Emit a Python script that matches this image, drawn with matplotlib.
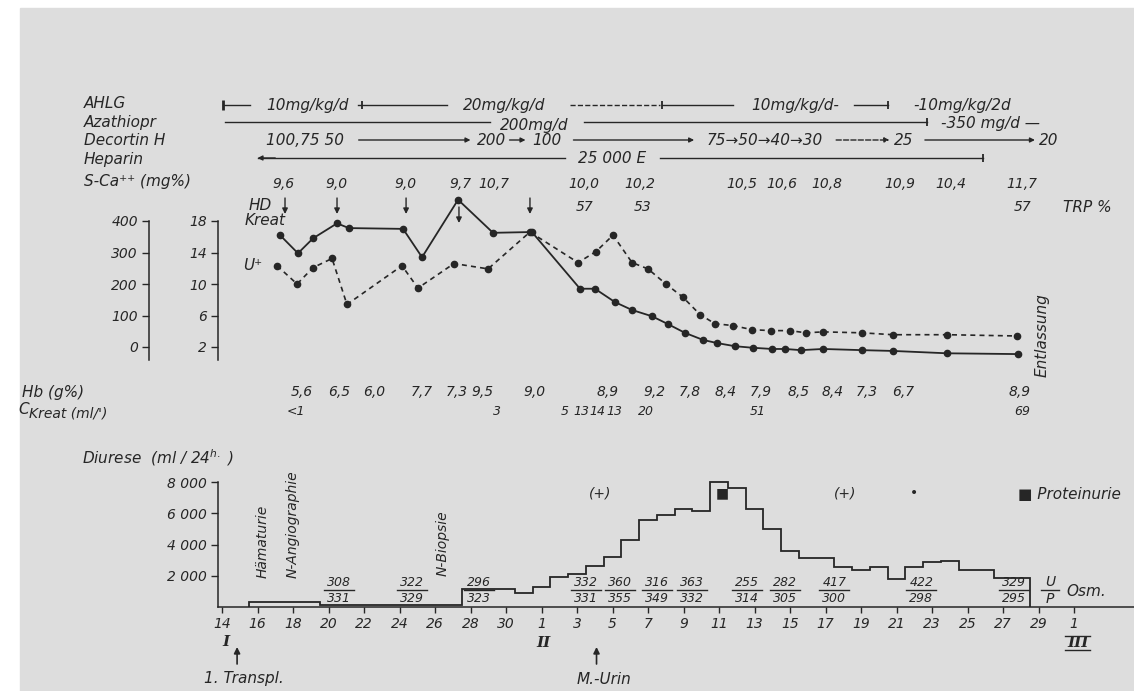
import matplotlib.pyplot as plt
from matplotlib.patches import Rectangle

W, H = 1134, 691
X0, PXD = 222, 17.75      # pixel of day index 0 (14. of month I), pixels per day
INK = '#262626'
BG = '#dddddd'
TXT = dict(fontsize=10, style='italic', color=INK, family='DejaVu Sans')
BIG = dict(TXT, fontsize=11)
SMALL = dict(TXT, fontsize=9)

# day index: 0 = 14th of month I, 18 = 1st of month II, 48 = 1st of month III
day_ticks = list(range(0, 49, 2))
day_labels = ['14', '16', '18', '20', '22', '24', '26', '28', '30', '1', '3', '5', '7',
              '9', '11', '13', '15', '17', '19', '21', '23', '25', '27', '29', '1']

# serum creatinine (mg%) - solid line
kreat_day = [3.27, 4.28, 5.13, 6.48, 7.15, 10.2, 11.27, 13.3, 15.27, 17.46, 20.17, 21.01,
             22.14, 23.1, 24.23, 25.13, 26.08, 27.1, 27.89, 28.9, 29.92, 30.99, 31.72,
             32.62, 33.86, 36.06, 37.8, 40.85, 44.85]
kreat_val = [16.2, 13.9, 15.8, 17.7, 17.1, 17.0, 13.4, 20.7, 16.5, 16.6, 9.4, 9.4, 7.7,
             6.7, 5.9, 4.9, 3.8, 2.9, 2.5, 2.1, 1.9, 1.75, 1.75, 1.6, 1.75, 1.6, 1.5, 1.2, 1.1]

# serum urea (mg%) - dashed line
urea_day = [3.1, 4.23, 5.13, 6.2, 7.04, 10.14, 11.04, 13.07, 14.99, 17.35, 20.06, 21.07,
            22.03, 23.1, 24.0, 25.01, 25.97, 26.93, 27.77, 28.79, 29.86, 30.93, 32.0,
            32.9, 33.86, 36.06, 37.8, 40.85, 44.79]
urea_val = [258, 200, 252, 281, 135, 258, 187, 265, 248, 365, 268, 303, 355, 268, 248,
            200, 158, 103, 74, 68, 55, 52, 52, 45, 48, 45, 39, 39, 35]

hd_day = [3.55, 6.48, 10.37, 13.35, 17.35]

# daily diuresis (ml / 24 h), day index 2 .. 45
diurese_day = list(range(2, 46))
diurese_ml = [300, 300, 300, 300, 150, 150, 150, 150, 150, 150, 150, 150,
              1150, 1150, 1150, 920, 1250, 1900, 2100, 2600, 3200, 4300, 5550, 5870,
              6260, 6150, 8000, 7600, 6260, 4970, 3610, 3160, 3160, 2580, 2400, 2580,
              1800, 2540, 2860, 2970, 2370, 2370, 1850, 1850]

sca_day = [3.44, 6.42, 10.31, 13.41, 15.32, 20.39, 23.55, 29.3, 31.55, 34.08, 38.2, 41.07, 45.07]
sca_val = ['9,6', '9,0', '9,0', '9,7', '10,7', '10,0', '10,2', '10,5', '10,6', '10,8',
           '10,9', '10,4', '11,7']
trp_day = [20.4, 23.7, 45.1]
trp_val = ['57', '53', '57']

hb_day = [4.5, 6.6, 8.56, 11.27, 13.24, 14.7, 17.58, 21.75, 24.34, 26.37, 28.39, 30.37,
          32.5, 34.42, 36.34, 38.37, 44.96]
hb_val = ['5,6', '6,5', '6,0', '7,7', '7,3', '9,5', '9,0', '8,9', '9,2', '7,8', '8,4',
          '7,9', '8,5', '8,4', '7,3', '6,7', '8,9']
ckreat_day = [4.17, 15.49, 19.32, 20.23, 21.13, 22.08, 23.89, 30.2, 45.07]
ckreat_val = ['<1', '3', '5', '13', '14', '13', '20', '51', '69']

osm_day = [6.6, 10.7, 14.5, 20.5, 22.4, 24.5, 26.5, 29.6, 31.7, 34.5, 39.4, 44.6]
osm_u = [308, 322, 296, 332, 360, 316, 363, 255, 282, 417, 422, 329]
osm_p = [331, 329, 323, 331, 355, 349, 332, 314, 305, 300, 298, 295]

prot_day = [21.3, 28.2, 35.1, 39.0]
prot_mark = ['(+)', '■', '(+)', '•']

# therapy rows: (text, day, row offset) and line segments (start, end, style)
ahlg_txt = [('10mg/kg/d', 4.8, 0), ('20mg/kg/d', 15.9, 0), ('10mg/kg/d-', 32.3, 0),
            ('-10mg/kg/2d', 41.7, 0)]
ahlg_seg = [(0.06, 1.6, '-'), (7.66, 12.7, '-'), (19.6, 24.7, '--'), (24.8, 28.8, '-'),
            (35.6, 37.5, '-')]
ahlg_change = [7.9, 24.8, 37.5]
aza_txt = [('200mg/d', 17.6, 3), ('-350 mg/d —', 43.3, 1)]
aza_seg = [(0.17, 15.1, '-'), (20.4, 39.7, '-')]
aza_change = [39.7]
deco_txt = [('100,75 50', 4.7, 0), ('200', 15.2, 0), ('100', 18.3, 0),
            ('75→50→40→30', 30.6, 0), ('25', 38.4, 0), ('20', 46.6, 0)]
deco_seg = [(7.7, 14.0, '-'), (16.2, 17.1, '-'), (19.8, 26.6, '-'), (34.6, 37.6, '--'),
            (39.6, 45.8, '-')]
hep_txt = [('25 000 E', 22.0, 0)]
hep_seg = [(2.0, 19.3, '-'), (24.7, 42.9, '-')]


def pos(x_left, y_top, y_bot):
    return [x_left / W, 1 - y_bot / H, (W - x_left) / W, (y_bot - y_top) / H]


def xlim(x_left):
    return ((x_left - X0) / PXD, (W - X0) / PXD)


def px(x):
    return (x - X0) / PXD


fig = plt.figure(figsize=(W / 100, H / 100), dpi=100)
fig.patch.set_facecolor('white')
fig.add_artist(Rectangle((20 / W, 0), 1, 1 - 8 / H, transform=fig.transFigure,
                         color=BG, zorder=-10))

# overlay axes: x in days, y in pixels from the top
ax = fig.add_axes([0, 0, 1, 1])
ax.set_xlim(*xlim(0))
ax.set_ylim(H, 0)
ax.axis('off')

for lab, y in [('AHLG', 103), ('Azathiopr', 122), ('Decortin H', 140), ('Heparin', 159),
               ('S-Ca⁺⁺ (mg%)', 181)]:
    ax.text(px(84), y, lab, ha='left', va='center', **BIG)


def therapy(y, texts, segs, arrows=False):
    for t, d, dy in texts:
        ax.text(d, y + dy, t, ha='center', va='center', **BIG)
    for a, b, ls in segs:
        if arrows:
            ax.annotate('', xy=(b, y), xytext=(a, y),
                        arrowprops=dict(arrowstyle='-|>', lw=1, color=INK, ls=ls,
                                        mutation_scale=7, shrinkA=0, shrinkB=0))
        else:
            ax.plot([a, b], [y, y], color=INK, lw=1, ls=ls)


therapy(105, ahlg_txt, ahlg_seg)
ax.plot(ahlg_change, [105] * len(ahlg_change), '|', color=INK, ms=6, mew=1.3)
ax.plot([ahlg_seg[0][0]], [105], '|', color=INK, ms=7, mew=2)
therapy(122, aza_txt, aza_seg)
ax.plot(aza_change, [122], '|', color=INK, ms=6, mew=1.3)
therapy(140, deco_txt, deco_seg, arrows=True)
therapy(158, hep_txt, hep_seg)
ax.annotate('', xy=(hep_seg[0][0], 158), xytext=(hep_seg[0][0] + 1, 158),
            arrowprops=dict(arrowstyle='-|>', lw=1, color=INK, mutation_scale=7,
                            shrinkA=0, shrinkB=0))
ax.plot([hep_seg[1][1]], [158], '|', color=INK, ms=6, mew=1.3)

for d, v in zip(sca_day, sca_val):
    ax.text(d, 184, v, ha='center', va='center', **TXT)
for d, v in zip(trp_day, trp_val):
    ax.text(d, 207, v, ha='center', va='center', **TXT)
ax.text(px(1063), 207, 'TRP %', ha='left', va='center', **BIG)

# labels of the creatinine / urea panel
ax.text(px(249), 205, 'HD', ha='left', va='center', **BIG)
ax.text(px(245), 220, 'Kreat', ha='left', va='center', **BIG)
ax.text(px(243), 265, 'U⁺', ha='left', va='center', **BIG)
for d in hd_day:
    y0 = 207 if d == hd_day[3] else 198
    ax.annotate('', xy=(d, y0 + 16), xytext=(d, y0),
                arrowprops=dict(arrowstyle='-|>', lw=1, color=INK, mutation_scale=8,
                                shrinkA=0, shrinkB=0))
ax.text(px(1042), 335, 'Entlassung', rotation=90, ha='center', va='center', **BIG)

ax.text(px(22), 392, 'Hb (g%)', ha='left', va='center', **BIG)
ax.text(px(18), 409, 'C', ha='left', va='center', **BIG)
ax.text(px(29), 413, "Kreat (ml/')", ha='left', va='center', **TXT)
for d, v in zip(hb_day, hb_val):
    ax.text(d, 392, v, ha='center', va='center', **TXT)
for d, v in zip(ckreat_day, ckreat_val):
    ax.text(d, 411, v, ha='center', va='center', **SMALL)

ax.text(px(82), 458, 'Diurese  (ml / 24$^{h.}$ )', ha='left', va='center', **BIG)

# urine / plasma osmolality
for d, u, p in zip(osm_day, osm_u, osm_p):
    ax.text(d, 582, str(u), ha='center', va='center', **SMALL)
    ax.plot([d - 0.85, d + 0.85], [590, 590], color=INK, lw=1)
    ax.text(d, 599, str(p), ha='center', va='center', **SMALL)
od = px(1050)
ax.text(od, 582, 'U', ha='center', va='center', **TXT)
ax.plot([od - 0.5, od + 0.5], [590, 590], color=INK, lw=1)
ax.text(od, 599, 'P', ha='center', va='center', **TXT)
ax.text(od + 0.9, 591, 'Osm.', ha='left', va='center', **BIG)

for d, m in zip(prot_day, prot_mark):
    ax.text(d, 493, m, ha='center', va='center', **TXT)
ax.text(px(1018), 494, '■ Proteinurie', ha='left', va='center', **BIG)

ax.text(px(263), 578, 'Hämaturie', rotation=90, ha='center', va='bottom', **TXT)
ax.text(px(293), 578, 'N-Angiographie', rotation=90, ha='center', va='bottom', **TXT)
ax.text(px(443), 576, 'N-Biopsie', rotation=90, ha='center', va='bottom', **TXT)

ROM = dict(fontsize=11, color=INK, family='DejaVu Serif', style='italic', fontweight='bold')
ax.text(0.2, 642, 'I', ha='center', va='center', **ROM)
ax.text(18.1, 643, 'II', ha='center', va='center', **ROM)
ax.text(48.2, 643, 'III', ha='center', va='center', **ROM)
ax.plot([47.5, 48.9], [636, 636], color=INK, lw=1)
ax.plot([47.5, 48.9], [650, 650], color=INK, lw=1)
for d, lab in [(0.85, '1. Transpl.'), (21.1, 'M.-Urin')]:
    ax.annotate('', xy=(d, 647), xytext=(d, 664),
                arrowprops=dict(arrowstyle='-|>', lw=1.2, color=INK, mutation_scale=9,
                                shrinkA=0, shrinkB=0))
    ax.text(d + 0.4, 679, lab, ha='center', va='center', **BIG)

# creatinine / urea panel
K_TOP, K_BOT = 218, 360
k_lo = 2 - (K_BOT - 347) / 7.875
k_hi = 18 + (221 - K_TOP) / 7.875
axk = fig.add_axes(pos(218, K_TOP, K_BOT))
axk.set_facecolor('none')
axk.set_xlim(*xlim(218))
axk.set_ylim(k_lo, k_hi)
axk.plot(kreat_day, kreat_val, '-', color=INK, lw=1.3, marker='o', ms=4.5, clip_on=False)
for s in ['top', 'right', 'bottom']:
    axk.spines[s].set_visible(False)
axk.spines['left'].set_bounds(k_lo, 18)
axk.set_xticks([])
axk.set_yticks([2, 6, 10, 14, 18])
axk.set_yticklabels(['2', '6', '10', '14', '18'], style='italic')

axu = fig.add_axes(pos(218, K_TOP, K_BOT), sharex=axk)
axu.set_facecolor('none')
axu.set_ylim((k_lo - 2) * 25, (k_hi - 2) * 25)
axu.plot(urea_day, urea_val, color=INK, lw=1.2, ls=(0, (3, 2.5)), marker='o', ms=4.5)
for s in ['top', 'right', 'bottom']:
    axu.spines[s].set_visible(False)
axu.spines['left'].set_position(('outward', 69 * 0.72))
axu.spines['left'].set_bounds((k_lo - 2) * 25, 400)
axu.tick_params(axis='x', which='both', bottom=False, labelbottom=False)
axu.set_yticks([0, 100, 200, 300, 400])
axu.set_yticklabels(['0', '100', '200', '300', '400'], style='italic')

# diuresis panel
D_TOP, D_BOT = 478, 607
axd = fig.add_axes(pos(218, D_TOP, D_BOT))
axd.set_facecolor('none')
axd.set_xlim(*xlim(218))
axd.set_ylim(0, (D_BOT - D_TOP) / 15.625 * 1000)
edges = [d - 0.5 for d in diurese_day] + [diurese_day[-1] + 0.5]
axd.stairs(diurese_ml, edges, baseline=0, color=INK, lw=1.3)
for s in ['top', 'right']:
    axd.spines[s].set_visible(False)
axd.spines['left'].set_bounds(0, 8000)
axd.set_yticks([2000, 4000, 6000, 8000])
axd.set_yticklabels(['2 000', '4 000', '6 000', '8 000'], style='italic')
axd.set_xticks(day_ticks)
axd.set_xticklabels(day_labels, style='italic')

for a in (axk, axu, axd):
    for s in a.spines.values():
        s.set_color(INK)
        s.set_linewidth(1.1)
    a.tick_params(colors=INK, labelsize=10, length=5, width=1, pad=3)
axd.tick_params(axis='x', length=4, pad=3)

fig.savefig('out.png', dpi=100)
